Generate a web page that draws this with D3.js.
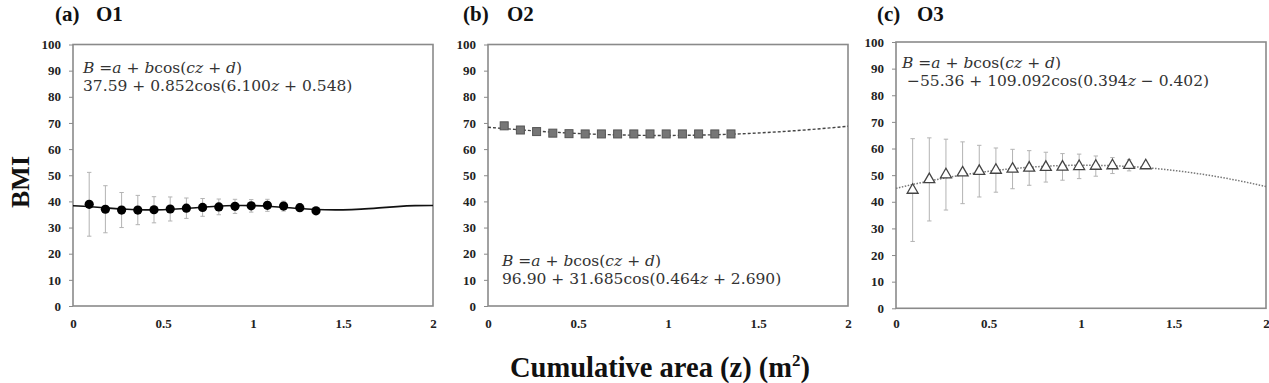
<!DOCTYPE html>
<html><head><meta charset="utf-8">
<script src="https://cdn.jsdelivr.net/npm/d3@7"></script>
<style>
html,body{margin:0;padding:0;background:#fff;}
svg{display:block;}
</style></head>
<body>
<svg id="chart" width="1269" height="383"></svg>
<script>
// ---- data ----
const zPoints = [0.09,0.18,0.27,0.36,0.45,0.54,0.63,0.72,0.81,0.90,0.99,1.08,1.17,1.26,1.35];
const o1Mean = [38.9,37.0,36.7,36.7,36.8,37.1,37.4,37.7,37.9,38.1,38.3,38.5,38.2,37.6,36.4];
const o1Sd   = [12.2,9.0,6.7,5.6,5.0,4.6,3.9,3.4,3.0,2.7,2.4,2.3,1.9,1.4,0];
const o2Mean = [68.9,67.3,66.7,66.1,65.9,65.8,65.8,65.8,65.8,65.8,65.8,65.8,65.8,65.8,65.8];
const o3Mean = [44.4,48.4,50.2,50.9,51.5,51.9,52.3,52.7,53.0,53.1,53.3,53.4,53.6,53.7,53.6];
const o3Sd   = [19.3,15.6,13.3,11.6,9.7,8.3,7.4,6.5,5.6,5.0,4.6,3.8,3.0,2.1,0];
const zCurve = [0,0.1,0.2,0.3,0.4,0.5,0.6,0.7,0.8,0.9,1.0,1.1,1.2,1.3,1.4,1.5,1.6,1.7,1.8,1.9,2.0];
const o1Fit = [38.32,37.93,37.42,36.97,36.75,36.83,37.18,37.68,38.15,38.42,38.39,38.07,37.58,37.09,36.79,36.77,37.05,37.52,38.02,38.37,38.43];
const o2Fit = [68.36,67.79,67.26,66.75,66.33,65.98,65.69,65.47,65.32,65.23,65.22,65.27,65.39,65.58,65.83,66.16,66.55,67.00,67.52,68.10,68.74];
const o3Fit = [45.04,46.64,48.08,49.37,50.49,51.45,52.24,52.86,53.32,53.61,53.73,53.68,53.46,53.07,52.51,51.79,50.90,49.84,48.62,47.24,45.71];
const yTicks = [0,10,20,30,40,50,60,70,80,90,100];
const xTicks = [0,0.5,1,1.5,2];
const xTickLabels = ["0","0.5","1","1.5","2"];
const panelLetters = ["(a)","(b)","(c)"];
const panelNames = ["O1","O2","O3"];
// equation pieces: [text, italic?]
const eqGeneral = [["B",1],[" =",0],["a",1],[" + ",0],["b",1],["cos(",0],["cz",1],[" + ",0],["d",1],[")",0]];
const eqFits = [
  [["37.59 + 0.852cos(6.100",0],["z",1],[" + 0.548)",0]],
  [["96.90 + 31.685cos(0.464",0],["z",1],[" + 2.690)",0]],
  [[" \u221255.36 + 109.092cos(0.394",0],["z",1],[" \u2212 0.402)",0]]
];
const yLabel = "BMI";
const xLabel = "Cumulative area (z) (m";

// ---- layout ----
const svg = d3.select("#chart");
const serif = "'Liberation Serif','Times New Roman',serif";
const eqFont = "'DejaVu Serif',serif";
const panels = [
  {x0:73, x1:433, y0:306, y1:44.5, mean:o1Mean, sd:o1Sd, fit:o1Fit, marker:"circle", curve:{stroke:"#111", w:1.6, dash:null},
   title:{lx:55, nx:96}, eq:{x:83, y:67}},
  {x0:488, x1:848, y0:306, y1:44.5, mean:o2Mean, sd:null, fit:o2Fit, marker:"square", curve:{stroke:"#444", w:1.4, dash:"3,2"},
   title:{lx:463, nx:507}, eq:{x:502, y:260}},
  {x0:896, x1:1266, y0:308.3, y1:42, mean:o3Mean, sd:o3Sd, fit:o3Fit, marker:"triangle", curve:{stroke:"#777", w:1.5, dash:"1.5,1.5"},
   title:{lx:877, nx:917}, eq:{x:902, y:62}}
];

function writeEq(g, x, y, pieces){
  const t = g.append("text").attr("x",x).attr("y",y+5.5).attr("font-family",eqFont).attr("font-size",15.5)
    .attr("fill","#333").attr("xml:space","preserve").style("white-space","pre");
  pieces.forEach(([s,it])=>{
    t.append("tspan").attr("font-style",it?"italic":"normal").text(s);
  });
}

panels.forEach((p,i)=>{
  const x = d3.scaleLinear().domain([0,2]).range([p.x0,p.x1]);
  const y = d3.scaleLinear().domain([0,100]).range([p.y0,p.y1]);
  const g = svg.append("g");

  // frame
  g.append("rect").attr("x",p.x0).attr("y",p.y1).attr("width",p.x1-p.x0).attr("height",p.y0-p.y1)
    .attr("fill","none").attr("stroke","#8a8a8a").attr("stroke-width",1.6);

  // y axis
  const ya = g.append("g").attr("transform",`translate(${p.x0},0)`)
    .call(d3.axisLeft(y).tickValues(yTicks).tickSize(4).tickPadding(8).tickSizeOuter(0));
  ya.select(".domain").remove();
  ya.selectAll(".tick line").attr("stroke","#8a8a8a");
  ya.selectAll(".tick text").attr("font-family",serif).attr("font-weight","bold").attr("font-size",13).attr("fill","#222");

  // x axis
  const xa = g.append("g").attr("transform",`translate(0,${p.y0})`)
    .call(d3.axisBottom(x).tickValues(xTicks).tickFormat((d,k)=>xTickLabels[k]).tickSize(0).tickSizeOuter(0));
  xa.select(".domain").remove();
  xa.selectAll(".tick text").attr("y",325-p.y0).attr("dy",null).attr("dominant-baseline","middle")
    .attr("font-family",serif).attr("font-weight","bold").attr("font-size",13).attr("fill","#222");

  // fitted curve
  const line = d3.line().x((d,k)=>x(zCurve[k])).y(d=>y(d)).curve(d3.curveNatural);
  g.append("path").datum(p.fit).attr("d",line).attr("fill","none")
    .attr("stroke",p.curve.stroke).attr("stroke-width",p.curve.w)
    .attr("stroke-dasharray",p.curve.dash);

  // error bars
  if(p.sd){
    const eb = g.append("g").attr("stroke","#b3b3b3").attr("stroke-width",1);
    p.mean.forEach((m,k)=>{
      const s = p.sd[k]; if(!s) return;
      const cx = x(zPoints[k]);
      eb.append("line").attr("x1",cx).attr("x2",cx).attr("y1",y(m+s)).attr("y2",y(m-s));
      eb.append("line").attr("x1",cx-2.2).attr("x2",cx+2.2).attr("y1",y(m+s)).attr("y2",y(m+s));
      eb.append("line").attr("x1",cx-2.2).attr("x2",cx+2.2).attr("y1",y(m-s)).attr("y2",y(m-s));
    });
  }

  // markers
  const mk = g.append("g");
  p.mean.forEach((m,k)=>{
    const cx = x(zPoints[k]), cy = y(m);
    if(p.marker==="circle"){
      mk.append("circle").attr("cx",cx).attr("cy",cy).attr("r",4.6).attr("fill","#000");
    } else if(p.marker==="square"){
      mk.append("rect").attr("x",cx-4).attr("y",cy-4).attr("width",8).attr("height",8)
        .attr("fill","#767676").attr("stroke","#555").attr("stroke-width",1);
    } else {
      mk.append("path").attr("d",d3.symbol(d3.symbolTriangle,52)()).attr("transform",`translate(${cx},${cy})`)
        .attr("fill","#fff").attr("stroke","#444").attr("stroke-width",1.3);
    }
  });

  // equations
  writeEq(g, p.eq.x, p.eq.y, eqGeneral);
  writeEq(g, p.eq.x, p.eq.y+18, eqFits[i]);

  // titles
  g.append("text").attr("x",p.title.lx).attr("y",21).attr("font-family",serif).attr("font-weight","bold")
    .attr("font-size",21).attr("fill","#111").text(panelLetters[i]);
  g.append("text").attr("x",p.title.nx).attr("y",21).attr("font-family",serif).attr("font-weight","bold")
    .attr("font-size",21).attr("fill","#111").text(panelNames[i]);
});

// axis titles
svg.append("text").attr("transform","translate(29,182) rotate(-90)").attr("text-anchor","middle")
  .attr("font-family",serif).attr("font-weight","bold").attr("font-size",26).attr("fill","#111").text(yLabel);
const xt = svg.append("text").attr("x",660).attr("y",377).attr("text-anchor","middle")
  .attr("font-family",serif).attr("font-weight","bold").attr("font-size",28.5).attr("fill","#111");
xt.append("tspan").text(xLabel);
xt.append("tspan").attr("font-size",17).attr("dy",-11).text("2");
xt.append("tspan").attr("dy",11).text(")");
</script>
</body></html>
